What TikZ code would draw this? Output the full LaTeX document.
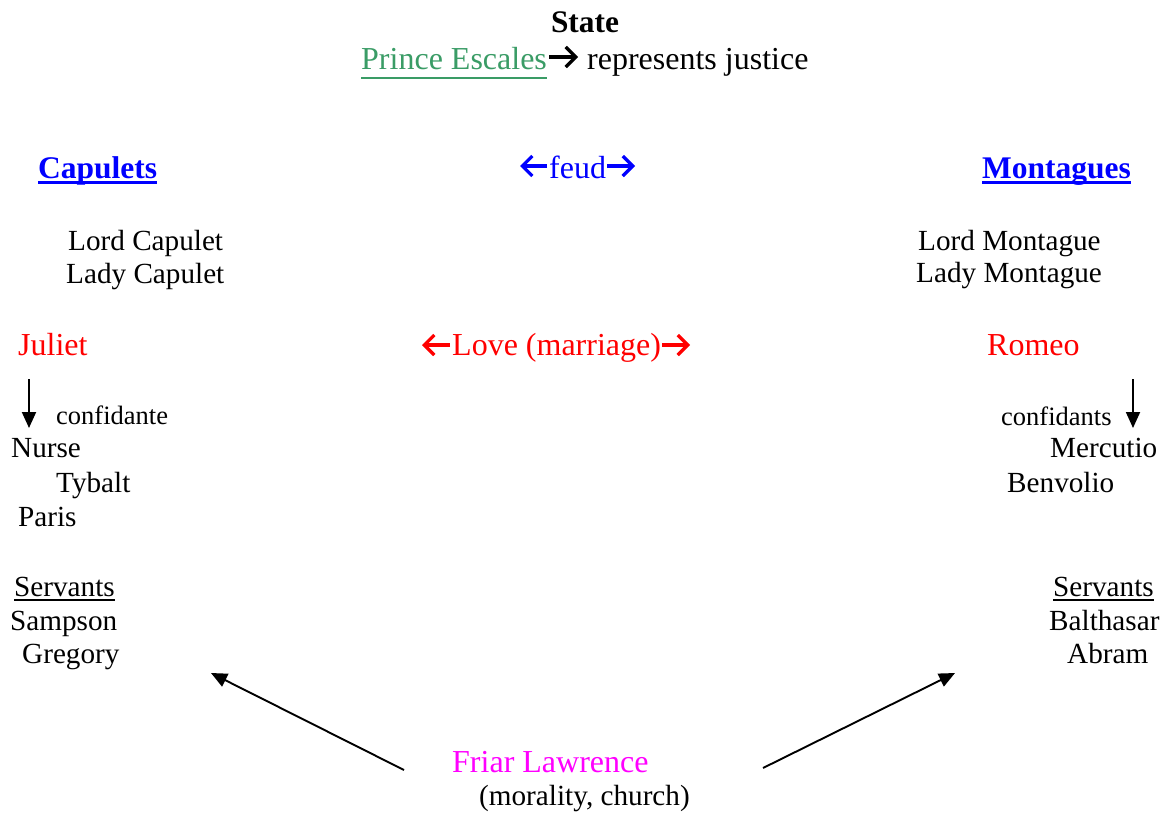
\documentclass[tikz,border=0pt]{standalone}
\usepackage{fontspec}
\setmainfont{Liberation Serif}
\usetikzlibrary{arrows.meta}
\definecolor{princegreen}{RGB}{58,156,102}
\definecolor{loveRed}{RGB}{255,0,0}
\definecolor{feudBlue}{RGB}{0,0,255}
\definecolor{friarMagenta}{RGB}{255,0,255}
\begin{document}
\begin{tikzpicture}[x=1pt,y=-1pt,
  txt/.style={anchor=base west, inner sep=0pt, font=\fontsize{29.2}{33}\selectfont},
  big/.style={anchor=base west, inner sep=0pt, font=\fontsize{32}{36}\selectfont},
  head/.style={anchor=base west, inner sep=0pt, font=\fontsize{31.5}{36}\selectfont\bfseries},
  small/.style={anchor=base west, inner sep=0pt, font=\fontsize{26.5}{30}\selectfont},
  inlinearrow/.style={line width=3.2pt, -{Straight Barb[length=10pt,width=20pt,line width=3.2pt]}},
  uline/.style={line width=1.6pt},
  thickuline/.style={line width=3.3pt},
  pointer/.style={line width=1.9pt, -{Triangle[length=16pt,width=14pt]}},
  downarrow/.style={line width=1.9pt, -{Triangle[length=16pt,width=14pt]}}
]
\useasboundingbox (0,0) rectangle (1167,812);

% State
\node[anchor=base, inner sep=0pt, font=\fontsize{31.4}{36}\selectfont\bfseries] (state) at (585,32) {State};
\node[big, text=princegreen] (prince) at (361,69) {Prince Escales};
\draw[uline, princegreen] ([yshift=-9pt]prince.base west) -- ([yshift=-9pt]prince.base east);
\coordinate (parrA) at (549,57);
\coordinate (parrB) at (578,57);
\draw[inlinearrow] (parrA) -- (parrB);
\node[big] (justice) at (587,69) {represents justice};

% Houses
\node[head, text=feudBlue] (capulets) at (38,178) {Capulets};
\draw[thickuline, feudBlue] ([yshift=-4.5pt]capulets.base west) -- ([yshift=-4.5pt]capulets.base east);
\coordinate (lfeudA) at (547,166);
\coordinate (lfeudB) at (520,166);
\draw[inlinearrow, feudBlue] (lfeudA) -- (lfeudB);
\node[big, text=feudBlue] (feud) at (549,178) {feud};
\coordinate (rfeudA) at (607,166);
\coordinate (rfeudB) at (635,166);
\draw[inlinearrow, feudBlue] (rfeudA) -- (rfeudB);
\node[head, text=feudBlue] (montagues) at (982,178) {Montagues};
\draw[thickuline, feudBlue] ([yshift=-4.5pt]montagues.base west) -- ([yshift=-4.5pt]montagues.base east);

% Parents
\node[txt] (lordcap) at (68,250) {Lord Capulet};
\node[txt] (ladycap) at (66,283) {Lady Capulet};
\node[txt] (lordmon) at (918,250) {Lord Montague};
\node[txt] (ladymon) at (916,282) {Lady Montague};

% Lovers
\node[big, text=loveRed] (juliet) at (18,355) {Juliet};
\coordinate (lloveA) at (450,345);
\coordinate (lloveB) at (422,345);
\draw[inlinearrow, loveRed] (lloveA) -- (lloveB);
\node[big, text=loveRed] (love) at (452,355) {Love (marriage)};
\coordinate (rloveA) at (662,345);
\coordinate (rloveB) at (690,345);
\draw[inlinearrow, loveRed] (rloveA) -- (rloveB);
\node[big, text=loveRed] (romeo) at (987,355) {Romeo};

% Confidants
\coordinate (jtop) at (29,379);
\coordinate (jtip) at (29,428);
\draw[downarrow] (jtop) -- (jtip);
\node[small] (confidante) at (56,424) {confidante};
\coordinate (rtop) at (1133,379);
\coordinate (rtip) at (1133,428);
\draw[downarrow] (rtop) -- (rtip);
\node[small] (confidants) at (1001,425) {confidants};

\node[txt] (nurse) at (11,457) {Nurse};
\node[txt] (tybalt) at (56,492) {Tybalt};
\node[txt] (paris) at (18,526) {Paris};
\node[txt] (mercutio) at (1050,457) {Mercutio};
\node[txt] (benvolio) at (1007,492) {Benvolio};

% Servants
\node[txt] (servl) at (14,596) {Servants};
\draw[uline] ([yshift=-4pt]servl.base west) -- ([yshift=-4pt]servl.base east);
\node[txt] (sampson) at (10,630) {Sampson};
\node[txt] (gregory) at (22,663) {Gregory};
\node[txt] (servr) at (1053,596) {Servants};
\draw[uline] ([yshift=-4pt]servr.base west) -- ([yshift=-4pt]servr.base east);
\node[txt] (balthasar) at (1049,630) {Balthasar};
\node[txt] (abram) at (1067,663) {Abram};

% Friar
\node[big, text=friarMagenta] (friar) at (452,772) {Friar Lawrence};
\node[txt] (morality) at (479,805) {(morality, church)};
\coordinate (ltail) at (404,770);
\coordinate (lhead) at (211,673);
\coordinate (rtail) at (763,768);
\coordinate (rhead) at (955,673);
\draw[pointer] (ltail) -- (lhead);
\draw[pointer] (rtail) -- (rhead);
\end{tikzpicture}
\end{document}
